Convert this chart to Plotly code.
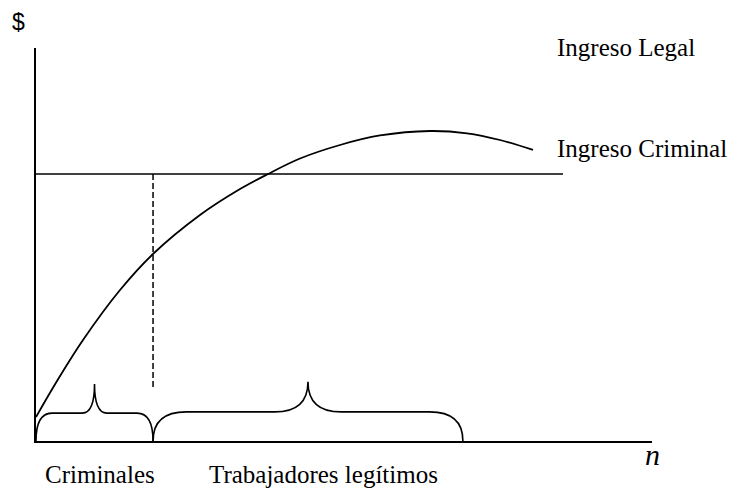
import plotly.graph_objects as go

# ---- data (chart units: n on x from 0..100, $ on y from 0..100) ----
legal_n = [0, 3.41, 7.63, 13.64, 18.99, 26.62, 33.12, 37.66, 42.86, 49.35,
           55.84, 63.96, 69.97, 75.32, 80.68]
legal_income = [6.11, 15.27, 25.70, 38.42, 47.58, 57.51, 64.12, 67.94, 71.88, 75.32,
                77.74, 78.88, 78.30, 76.59, 74.05]

criminal_n = [0, 85.55]
criminal_income = [67.94, 67.94]

threshold_n = [19.0, 19.0]
threshold_y = [67.94, 13.0]

group_labels = ["Criminales", "Trabajadores legítimos"]
group_start = [0, 19.0]
group_end = [19.0, 69.3]
brace_shoulder = [7.1, 7.4]
brace_tip = [14.5, 15.1]
brace_corner = [2.6, 5.4]
brace_tipw = [2.0, 5.4]

fig = go.Figure()

fig.add_trace(go.Scatter(x=legal_n, y=legal_income, mode="lines",
                         line=dict(color="black", width=1.8, shape="spline", smoothing=1.0),
                         hoverinfo="skip", showlegend=False))
fig.add_trace(go.Scatter(x=criminal_n, y=criminal_income, mode="lines",
                         line=dict(color="black", width=1.5),
                         hoverinfo="skip", showlegend=False))
fig.add_trace(go.Scatter(x=threshold_n, y=threshold_y, mode="lines",
                         line=dict(color="black", width=1.5, dash="6px,3px"),
                         hoverinfo="skip", showlegend=False))

# braces
for x0, x1, s, t, c, tw in zip(group_start, group_end, brace_shoulder, brace_tip, brace_corner, brace_tipw):
    xm = (x0 + x1) / 2
    path = (f"M {x0},0 Q {x0},{s} {x0 + c},{s} L {xm - tw},{s} Q {xm},{s} {xm},{t} "
            f"Q {xm},{s} {xm + tw},{s} L {x1 - c},{s} Q {x1},{s} {x1},0")
    fig.add_shape(type="path", path=path, xref="x", yref="y",
                  line=dict(color="black", width=1.6))

serif = dict(family="Liberation Serif", size=25, color="black")

def note(x, y, text, font, xanchor="center"):
    fig.add_annotation(x=x, y=y, xref="paper", yref="paper", text=text, showarrow=False,
                       xanchor=xanchor, yanchor="middle", font=font)

note(0.8425, 1.001, "Ingreso Legal", serif, "left")
note(0.8425, 0.744, "Ingreso Criminal", serif, "left")
note(0.1039, -0.0855, group_labels[0], serif)
note(0.4675, -0.0855, group_labels[1], serif)
note(-0.0284, 1.066, "$", dict(family="Liberation Sans", size=23, color="black"))
note(1.0016, -0.0356, "<i>n</i>", dict(family="Liberation Serif", size=30, color="black"))

fig.update_layout(
    width=729, height=481,
    margin=dict(l=28, r=85, t=40, b=48),
    paper_bgcolor="white", plot_bgcolor="white",
    xaxis=dict(range=[0, 100], showline=True, linecolor="black", linewidth=2,
               showgrid=False, zeroline=False, showticklabels=False, ticks=""),
    yaxis=dict(range=[0, 100], showline=True, linecolor="black", linewidth=2,
               showgrid=False, zeroline=False, showticklabels=False, ticks=""),
    showlegend=False,
)

fig.write_html("out.html")
